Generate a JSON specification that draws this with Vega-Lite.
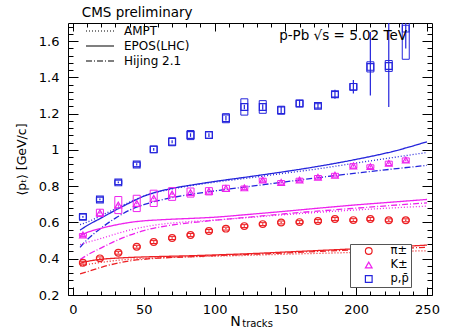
{
  "$schema": "https://vega.github.io/schema/vega-lite/v6.json",
  "width": 364,
  "height": 272,
  "autosize": "none",
  "padding": {"left": 68, "top": 23, "right": 17, "bottom": 35},
  "datasets": {
    "models": [
      {"species": "p,p̄", "model": "EPOS(LHC)", "n": 5, "pt": 0.558}, {"species": "p,p̄", "model": "EPOS(LHC)", "n": 10, "pt": 0.583}, {"species": "p,p̄", "model": "EPOS(LHC)", "n": 20, "pt": 0.625}, {"species": "p,p̄", "model": "EPOS(LHC)", "n": 30, "pt": 0.668}, {"species": "p,p̄", "model": "EPOS(LHC)", "n": 40, "pt": 0.708}, {"species": "p,p̄", "model": "EPOS(LHC)", "n": 50, "pt": 0.745}, {"species": "p,p̄", "model": "EPOS(LHC)", "n": 60, "pt": 0.77}, {"species": "p,p̄", "model": "EPOS(LHC)", "n": 70, "pt": 0.788}, {"species": "p,p̄", "model": "EPOS(LHC)", "n": 85, "pt": 0.808}, {"species": "p,p̄", "model": "EPOS(LHC)", "n": 100, "pt": 0.826}, {"species": "p,p̄", "model": "EPOS(LHC)", "n": 125, "pt": 0.853}, {"species": "p,p̄", "model": "EPOS(LHC)", "n": 150, "pt": 0.881}, {"species": "p,p̄", "model": "EPOS(LHC)", "n": 175, "pt": 0.912}, {"species": "p,p̄", "model": "EPOS(LHC)", "n": 200, "pt": 0.948}, {"species": "p,p̄", "model": "EPOS(LHC)", "n": 225, "pt": 0.99}, {"species": "p,p̄", "model": "EPOS(LHC)", "n": 250, "pt": 1.045},
      {"species": "p,p̄", "model": "AMPT", "n": 5, "pt": 0.588}, {"species": "p,p̄", "model": "AMPT", "n": 10, "pt": 0.602}, {"species": "p,p̄", "model": "AMPT", "n": 20, "pt": 0.638}, {"species": "p,p̄", "model": "AMPT", "n": 30, "pt": 0.676}, {"species": "p,p̄", "model": "AMPT", "n": 40, "pt": 0.712}, {"species": "p,p̄", "model": "AMPT", "n": 50, "pt": 0.745}, {"species": "p,p̄", "model": "AMPT", "n": 60, "pt": 0.768}, {"species": "p,p̄", "model": "AMPT", "n": 70, "pt": 0.785}, {"species": "p,p̄", "model": "AMPT", "n": 85, "pt": 0.805}, {"species": "p,p̄", "model": "AMPT", "n": 100, "pt": 0.822}, {"species": "p,p̄", "model": "AMPT", "n": 125, "pt": 0.846}, {"species": "p,p̄", "model": "AMPT", "n": 150, "pt": 0.872}, {"species": "p,p̄", "model": "AMPT", "n": 175, "pt": 0.898}, {"species": "p,p̄", "model": "AMPT", "n": 200, "pt": 0.928}, {"species": "p,p̄", "model": "AMPT", "n": 225, "pt": 0.957}, {"species": "p,p̄", "model": "AMPT", "n": 250, "pt": 0.986},
      {"species": "p,p̄", "model": "Hijing 2.1", "n": 5, "pt": 0.463}, {"species": "p,p̄", "model": "Hijing 2.1", "n": 10, "pt": 0.505}, {"species": "p,p̄", "model": "Hijing 2.1", "n": 20, "pt": 0.57}, {"species": "p,p̄", "model": "Hijing 2.1", "n": 30, "pt": 0.624}, {"species": "p,p̄", "model": "Hijing 2.1", "n": 40, "pt": 0.668}, {"species": "p,p̄", "model": "Hijing 2.1", "n": 50, "pt": 0.698}, {"species": "p,p̄", "model": "Hijing 2.1", "n": 60, "pt": 0.72}, {"species": "p,p̄", "model": "Hijing 2.1", "n": 70, "pt": 0.737}, {"species": "p,p̄", "model": "Hijing 2.1", "n": 85, "pt": 0.757}, {"species": "p,p̄", "model": "Hijing 2.1", "n": 100, "pt": 0.774}, {"species": "p,p̄", "model": "Hijing 2.1", "n": 125, "pt": 0.799}, {"species": "p,p̄", "model": "Hijing 2.1", "n": 150, "pt": 0.824}, {"species": "p,p̄", "model": "Hijing 2.1", "n": 175, "pt": 0.849}, {"species": "p,p̄", "model": "Hijing 2.1", "n": 200, "pt": 0.872}, {"species": "p,p̄", "model": "Hijing 2.1", "n": 225, "pt": 0.894}, {"species": "p,p̄", "model": "Hijing 2.1", "n": 250, "pt": 0.915},
      {"species": "K±", "model": "EPOS(LHC)", "n": 5, "pt": 0.528}, {"species": "K±", "model": "EPOS(LHC)", "n": 10, "pt": 0.545}, {"species": "K±", "model": "EPOS(LHC)", "n": 20, "pt": 0.568}, {"species": "K±", "model": "EPOS(LHC)", "n": 30, "pt": 0.586}, {"species": "K±", "model": "EPOS(LHC)", "n": 40, "pt": 0.6}, {"species": "K±", "model": "EPOS(LHC)", "n": 50, "pt": 0.609}, {"species": "K±", "model": "EPOS(LHC)", "n": 60, "pt": 0.614}, {"species": "K±", "model": "EPOS(LHC)", "n": 70, "pt": 0.618}, {"species": "K±", "model": "EPOS(LHC)", "n": 85, "pt": 0.623}, {"species": "K±", "model": "EPOS(LHC)", "n": 100, "pt": 0.629}, {"species": "K±", "model": "EPOS(LHC)", "n": 125, "pt": 0.645}, {"species": "K±", "model": "EPOS(LHC)", "n": 150, "pt": 0.662}, {"species": "K±", "model": "EPOS(LHC)", "n": 175, "pt": 0.68}, {"species": "K±", "model": "EPOS(LHC)", "n": 200, "pt": 0.697}, {"species": "K±", "model": "EPOS(LHC)", "n": 225, "pt": 0.712}, {"species": "K±", "model": "EPOS(LHC)", "n": 250, "pt": 0.727},
      {"species": "K±", "model": "AMPT", "n": 5, "pt": 0.478}, {"species": "K±", "model": "AMPT", "n": 10, "pt": 0.49}, {"species": "K±", "model": "AMPT", "n": 20, "pt": 0.512}, {"species": "K±", "model": "AMPT", "n": 30, "pt": 0.536}, {"species": "K±", "model": "AMPT", "n": 40, "pt": 0.558}, {"species": "K±", "model": "AMPT", "n": 50, "pt": 0.575}, {"species": "K±", "model": "AMPT", "n": 60, "pt": 0.588}, {"species": "K±", "model": "AMPT", "n": 70, "pt": 0.597}, {"species": "K±", "model": "AMPT", "n": 85, "pt": 0.606}, {"species": "K±", "model": "AMPT", "n": 100, "pt": 0.613}, {"species": "K±", "model": "AMPT", "n": 125, "pt": 0.628}, {"species": "K±", "model": "AMPT", "n": 150, "pt": 0.643}, {"species": "K±", "model": "AMPT", "n": 175, "pt": 0.657}, {"species": "K±", "model": "AMPT", "n": 200, "pt": 0.669}, {"species": "K±", "model": "AMPT", "n": 225, "pt": 0.68}, {"species": "K±", "model": "AMPT", "n": 250, "pt": 0.69},
      {"species": "K±", "model": "Hijing 2.1", "n": 5, "pt": 0.395}, {"species": "K±", "model": "Hijing 2.1", "n": 10, "pt": 0.42}, {"species": "K±", "model": "Hijing 2.1", "n": 20, "pt": 0.46}, {"species": "K±", "model": "Hijing 2.1", "n": 30, "pt": 0.498}, {"species": "K±", "model": "Hijing 2.1", "n": 40, "pt": 0.53}, {"species": "K±", "model": "Hijing 2.1", "n": 50, "pt": 0.555}, {"species": "K±", "model": "Hijing 2.1", "n": 60, "pt": 0.573}, {"species": "K±", "model": "Hijing 2.1", "n": 70, "pt": 0.586}, {"species": "K±", "model": "Hijing 2.1", "n": 85, "pt": 0.6}, {"species": "K±", "model": "Hijing 2.1", "n": 100, "pt": 0.612}, {"species": "K±", "model": "Hijing 2.1", "n": 125, "pt": 0.63}, {"species": "K±", "model": "Hijing 2.1", "n": 150, "pt": 0.648}, {"species": "K±", "model": "Hijing 2.1", "n": 175, "pt": 0.664}, {"species": "K±", "model": "Hijing 2.1", "n": 200, "pt": 0.679}, {"species": "K±", "model": "Hijing 2.1", "n": 225, "pt": 0.694}, {"species": "K±", "model": "Hijing 2.1", "n": 250, "pt": 0.708},
      {"species": "π±", "model": "EPOS(LHC)", "n": 5, "pt": 0.375}, {"species": "π±", "model": "EPOS(LHC)", "n": 10, "pt": 0.385}, {"species": "π±", "model": "EPOS(LHC)", "n": 20, "pt": 0.397}, {"species": "π±", "model": "EPOS(LHC)", "n": 30, "pt": 0.403}, {"species": "π±", "model": "EPOS(LHC)", "n": 40, "pt": 0.407}, {"species": "π±", "model": "EPOS(LHC)", "n": 50, "pt": 0.41}, {"species": "π±", "model": "EPOS(LHC)", "n": 60, "pt": 0.412}, {"species": "π±", "model": "EPOS(LHC)", "n": 70, "pt": 0.414}, {"species": "π±", "model": "EPOS(LHC)", "n": 85, "pt": 0.417}, {"species": "π±", "model": "EPOS(LHC)", "n": 100, "pt": 0.421}, {"species": "π±", "model": "EPOS(LHC)", "n": 125, "pt": 0.428}, {"species": "π±", "model": "EPOS(LHC)", "n": 150, "pt": 0.437}, {"species": "π±", "model": "EPOS(LHC)", "n": 175, "pt": 0.446}, {"species": "π±", "model": "EPOS(LHC)", "n": 200, "pt": 0.455}, {"species": "π±", "model": "EPOS(LHC)", "n": 225, "pt": 0.465}, {"species": "π±", "model": "EPOS(LHC)", "n": 250, "pt": 0.475},
      {"species": "π±", "model": "AMPT", "n": 5, "pt": 0.36}, {"species": "π±", "model": "AMPT", "n": 10, "pt": 0.368}, {"species": "π±", "model": "AMPT", "n": 20, "pt": 0.38}, {"species": "π±", "model": "AMPT", "n": 30, "pt": 0.39}, {"species": "π±", "model": "AMPT", "n": 40, "pt": 0.397}, {"species": "π±", "model": "AMPT", "n": 50, "pt": 0.402}, {"species": "π±", "model": "AMPT", "n": 60, "pt": 0.405}, {"species": "π±", "model": "AMPT", "n": 70, "pt": 0.408}, {"species": "π±", "model": "AMPT", "n": 85, "pt": 0.411}, {"species": "π±", "model": "AMPT", "n": 100, "pt": 0.414}, {"species": "π±", "model": "AMPT", "n": 125, "pt": 0.419}, {"species": "π±", "model": "AMPT", "n": 150, "pt": 0.425}, {"species": "π±", "model": "AMPT", "n": 175, "pt": 0.43}, {"species": "π±", "model": "AMPT", "n": 200, "pt": 0.435}, {"species": "π±", "model": "AMPT", "n": 225, "pt": 0.44}, {"species": "π±", "model": "AMPT", "n": 250, "pt": 0.444},
      {"species": "π±", "model": "Hijing 2.1", "n": 5, "pt": 0.316}, {"species": "π±", "model": "Hijing 2.1", "n": 10, "pt": 0.328}, {"species": "π±", "model": "Hijing 2.1", "n": 20, "pt": 0.353}, {"species": "π±", "model": "Hijing 2.1", "n": 30, "pt": 0.373}, {"species": "π±", "model": "Hijing 2.1", "n": 40, "pt": 0.388}, {"species": "π±", "model": "Hijing 2.1", "n": 50, "pt": 0.397}, {"species": "π±", "model": "Hijing 2.1", "n": 60, "pt": 0.403}, {"species": "π±", "model": "Hijing 2.1", "n": 70, "pt": 0.407}, {"species": "π±", "model": "Hijing 2.1", "n": 85, "pt": 0.412}, {"species": "π±", "model": "Hijing 2.1", "n": 100, "pt": 0.417}, {"species": "π±", "model": "Hijing 2.1", "n": 125, "pt": 0.424}, {"species": "π±", "model": "Hijing 2.1", "n": 150, "pt": 0.432}, {"species": "π±", "model": "Hijing 2.1", "n": 175, "pt": 0.441}, {"species": "π±", "model": "Hijing 2.1", "n": 200, "pt": 0.449}, {"species": "π±", "model": "Hijing 2.1", "n": 225, "pt": 0.456}, {"species": "π±", "model": "Hijing 2.1", "n": 250, "pt": 0.463}
    ],
    "points": [
      {"species": "π±", "n": 7, "pt": 0.378, "sysLo": 0.370, "sysHi": 0.386, "statLo": 0.374, "statHi": 0.382},
      {"species": "π±", "n": 19, "pt": 0.402, "sysLo": 0.394, "sysHi": 0.410, "statLo": 0.398, "statHi": 0.406},
      {"species": "π±", "n": 32, "pt": 0.433, "sysLo": 0.425, "sysHi": 0.441, "statLo": 0.429, "statHi": 0.437},
      {"species": "π±", "n": 45, "pt": 0.466, "sysLo": 0.458, "sysHi": 0.474, "statLo": 0.462, "statHi": 0.470},
      {"species": "π±", "n": 57, "pt": 0.492, "sysLo": 0.484, "sysHi": 0.500, "statLo": 0.488, "statHi": 0.496},
      {"species": "π±", "n": 70, "pt": 0.514, "sysLo": 0.506, "sysHi": 0.522, "statLo": 0.510, "statHi": 0.518},
      {"species": "π±", "n": 83, "pt": 0.531, "sysLo": 0.523, "sysHi": 0.539, "statLo": 0.527, "statHi": 0.535},
      {"species": "π±", "n": 96, "pt": 0.553, "sysLo": 0.545, "sysHi": 0.561, "statLo": 0.549, "statHi": 0.557},
      {"species": "π±", "n": 108, "pt": 0.566, "sysLo": 0.558, "sysHi": 0.574, "statLo": 0.562, "statHi": 0.570},
      {"species": "π±", "n": 121, "pt": 0.580, "sysLo": 0.572, "sysHi": 0.588, "statLo": 0.576, "statHi": 0.584},
      {"species": "π±", "n": 134, "pt": 0.591, "sysLo": 0.583, "sysHi": 0.599, "statLo": 0.587, "statHi": 0.595},
      {"species": "π±", "n": 147, "pt": 0.600, "sysLo": 0.592, "sysHi": 0.608, "statLo": 0.596, "statHi": 0.604},
      {"species": "π±", "n": 160, "pt": 0.602, "sysLo": 0.594, "sysHi": 0.610, "statLo": 0.598, "statHi": 0.606},
      {"species": "π±", "n": 173, "pt": 0.608, "sysLo": 0.600, "sysHi": 0.616, "statLo": 0.604, "statHi": 0.612},
      {"species": "π±", "n": 185, "pt": 0.619, "sysLo": 0.611, "sysHi": 0.627, "statLo": 0.615, "statHi": 0.623},
      {"species": "π±", "n": 198, "pt": 0.613, "sysLo": 0.605, "sysHi": 0.621, "statLo": 0.609, "statHi": 0.617},
      {"species": "π±", "n": 210, "pt": 0.619, "sysLo": 0.611, "sysHi": 0.627, "statLo": 0.615, "statHi": 0.623},
      {"species": "π±", "n": 223, "pt": 0.612, "sysLo": 0.604, "sysHi": 0.620, "statLo": 0.608, "statHi": 0.616},
      {"species": "π±", "n": 235, "pt": 0.612, "sysLo": 0.604, "sysHi": 0.620, "statLo": 0.608, "statHi": 0.616},
      {"species": "K±", "n": 7, "pt": 0.531, "sysLo": 0.523, "sysHi": 0.539, "statLo": 0.526, "statHi": 0.536},
      {"species": "K±", "n": 19, "pt": 0.653, "sysLo": 0.633, "sysHi": 0.673, "statLo": 0.648, "statHi": 0.658},
      {"species": "K±", "n": 32, "pt": 0.696, "sysLo": 0.649, "sysHi": 0.743, "statLo": 0.691, "statHi": 0.701},
      {"species": "K±", "n": 45, "pt": 0.705, "sysLo": 0.660, "sysHi": 0.750, "statLo": 0.700, "statHi": 0.710},
      {"species": "K±", "n": 57, "pt": 0.733, "sysLo": 0.688, "sysHi": 0.778, "statLo": 0.728, "statHi": 0.738},
      {"species": "K±", "n": 70, "pt": 0.757, "sysLo": 0.722, "sysHi": 0.792, "statLo": 0.752, "statHi": 0.762},
      {"species": "K±", "n": 83, "pt": 0.765, "sysLo": 0.740, "sysHi": 0.790, "statLo": 0.760, "statHi": 0.770},
      {"species": "K±", "n": 96, "pt": 0.772, "sysLo": 0.752, "sysHi": 0.792, "statLo": 0.767, "statHi": 0.777},
      {"species": "K±", "n": 108, "pt": 0.788, "sysLo": 0.771, "sysHi": 0.805, "statLo": 0.783, "statHi": 0.793},
      {"species": "K±", "n": 121, "pt": 0.791, "sysLo": 0.781, "sysHi": 0.801, "statLo": 0.786, "statHi": 0.796},
      {"species": "K±", "n": 134, "pt": 0.834, "sysLo": 0.824, "sysHi": 0.844, "statLo": 0.829, "statHi": 0.839},
      {"species": "K±", "n": 147, "pt": 0.821, "sysLo": 0.811, "sysHi": 0.831, "statLo": 0.816, "statHi": 0.826},
      {"species": "K±", "n": 160, "pt": 0.834, "sysLo": 0.824, "sysHi": 0.844, "statLo": 0.829, "statHi": 0.839},
      {"species": "K±", "n": 173, "pt": 0.849, "sysLo": 0.839, "sysHi": 0.859, "statLo": 0.844, "statHi": 0.854},
      {"species": "K±", "n": 185, "pt": 0.861, "sysLo": 0.851, "sysHi": 0.871, "statLo": 0.856, "statHi": 0.866},
      {"species": "K±", "n": 198, "pt": 0.912, "sysLo": 0.900, "sysHi": 0.924, "statLo": 0.907, "statHi": 0.917},
      {"species": "K±", "n": 210, "pt": 0.908, "sysLo": 0.898, "sysHi": 0.918, "statLo": 0.903, "statHi": 0.913},
      {"species": "K±", "n": 223, "pt": 0.926, "sysLo": 0.914, "sysHi": 0.938, "statLo": 0.921, "statHi": 0.931},
      {"species": "K±", "n": 235, "pt": 0.944, "sysLo": 0.932, "sysHi": 0.956, "statLo": 0.939, "statHi": 0.949},
      {"species": "p,p̄", "n": 7, "pt": 0.631, "sysLo": 0.616, "sysHi": 0.646, "statLo": 0.626, "statHi": 0.636},
      {"species": "p,p̄", "n": 19, "pt": 0.727, "sysLo": 0.715, "sysHi": 0.739, "statLo": 0.722, "statHi": 0.732},
      {"species": "p,p̄", "n": 32, "pt": 0.821, "sysLo": 0.809, "sysHi": 0.833, "statLo": 0.816, "statHi": 0.826},
      {"species": "p,p̄", "n": 45, "pt": 0.920, "sysLo": 0.908, "sysHi": 0.932, "statLo": 0.914, "statHi": 0.926},
      {"species": "p,p̄", "n": 57, "pt": 1.003, "sysLo": 0.985, "sysHi": 1.021, "statLo": 0.995, "statHi": 1.011},
      {"species": "p,p̄", "n": 70, "pt": 1.045, "sysLo": 1.023, "sysHi": 1.067, "statLo": 1.037, "statHi": 1.053},
      {"species": "p,p̄", "n": 83, "pt": 1.082, "sysLo": 1.057, "sysHi": 1.107, "statLo": 1.072, "statHi": 1.092},
      {"species": "p,p̄", "n": 96, "pt": 1.082, "sysLo": 1.064, "sysHi": 1.100, "statLo": 1.072, "statHi": 1.092},
      {"species": "p,p̄", "n": 108, "pt": 1.175, "sysLo": 1.150, "sysHi": 1.200, "statLo": 1.163, "statHi": 1.187},
      {"species": "p,p̄", "n": 121, "pt": 1.237, "sysLo": 1.192, "sysHi": 1.282, "statLo": 1.225, "statHi": 1.249},
      {"species": "p,p̄", "n": 134, "pt": 1.237, "sysLo": 1.202, "sysHi": 1.272, "statLo": 1.222, "statHi": 1.252},
      {"species": "p,p̄", "n": 147, "pt": 1.219, "sysLo": 1.197, "sysHi": 1.241, "statLo": 1.199, "statHi": 1.239},
      {"species": "p,p̄", "n": 160, "pt": 1.256, "sysLo": 1.238, "sysHi": 1.274, "statLo": 1.236, "statHi": 1.276},
      {"species": "p,p̄", "n": 173, "pt": 1.243, "sysLo": 1.231, "sysHi": 1.255, "statLo": 1.228, "statHi": 1.258},
      {"species": "p,p̄", "n": 185, "pt": 1.307, "sysLo": 1.292, "sysHi": 1.322, "statLo": 1.282, "statHi": 1.332},
      {"species": "p,p̄", "n": 198, "pt": 1.348, "sysLo": 1.330, "sysHi": 1.366, "statLo": 1.311, "statHi": 1.385},
      {"species": "p,p̄", "n": 210, "pt": 1.458, "sysLo": 1.430, "sysHi": 1.486, "statLo": 1.300, "statHi": 1.650},
      {"species": "p,p̄", "n": 223, "pt": 1.463, "sysLo": 1.433, "sysHi": 1.493, "statLo": 1.237, "statHi": 1.760},
      {"species": "p,p̄", "n": 235, "pt": 1.669, "sysLo": 1.500, "sysHi": 1.800, "statLo": 1.560, "statHi": 1.800}
    ]
  },
  "layer": [
    {
      "data": {"name": "models"},
      "mark": {"type": "line", "clip": true, "strokeWidth": 1.3, "interpolate": "monotone"},
      "encoding": {
        "x": {
          "field": "n", "type": "quantitative",
          "scale": {"domain": [0, 250], "nice": false, "zero": false},
          "axis": {
            "orient": "bottom", "title": "N",
            "values": [0, 10, 20, 30, 40, 50, 60, 70, 80, 90, 100, 110, 120, 130, 140, 150, 160, 170, 180, 190, 200, 210, 220, 230, 240, 250],
            "labelExpr": "datum.value % 50 === 0 ? datum.label : ''",
            "tickSize": {"condition": {"test": "datum.value % 50 === 0", "value": -8}, "value": -4},
            "labelPadding": 16,
            "titleX": 167, "titleY": 30, "titleAlign": "center", "titleBaseline": "alphabetic",
            "titleFontSize": 14, "titleFontWeight": "normal"
          }
        },
        "y": {
          "field": "pt", "type": "quantitative",
          "scale": {"domain": [0.2, 1.7], "nice": false, "zero": false},
          "axis": {
            "orient": "left", "title": "⟨pₜ⟩ [GeV/c]",
            "values": [0.2, 0.24, 0.28, 0.32, 0.36, 0.4, 0.44, 0.48, 0.52, 0.56, 0.6, 0.64, 0.68, 0.72, 0.76, 0.8, 0.84, 0.88, 0.92, 0.96, 1, 1.04, 1.08, 1.12, 1.16, 1.2, 1.24, 1.28, 1.32, 1.36, 1.4, 1.44, 1.48, 1.52, 1.56, 1.6, 1.64, 1.68],
            "labelExpr": "abs(datum.value * 5 - round(datum.value * 5)) < 0.01 ? format(datum.value, '.1~f') : ''",
            "tickSize": {"condition": {"test": "abs(datum.value * 5 - round(datum.value * 5)) < 0.01", "value": -10}, "value": -5},
            "labelPadding": 19,
            "titlePadding": 10, "titleFontSize": 12.5, "titleFontWeight": "normal"
          }
        },
        "color": {
          "field": "species", "type": "nominal",
          "scale": {"domain": ["π±", "K±", "p,p̄"], "range": ["#ec2024", "#ee22ee", "#2424dc"]},
          "legend": {
            "orient": "none", "legendX": 282, "legendY": 221, "title": null,
            "strokeColor": "#555555", "fillColor": "white", "padding": 2,
            "labelFontSize": 11.5, "labelOffset": 16, "symbolOffset": 11,
            "symbolSize": 45, "symbolStrokeWidth": 1.2, "clipHeight": 10, "rowPadding": 2
          }
        },
        "strokeDash": {
          "field": "model", "type": "nominal",
          "scale": {"domain": ["AMPT", "EPOS(LHC)", "Hijing 2.1"], "range": [[1, 2], [1, 0], [6, 2, 1, 2]]},
          "legend": {
            "orient": "none", "legendX": 17, "legendY": 2.5, "title": null, "padding": 0,
            "labelFontSize": 12, "labelOffset": 9,
            "symbolType": "stroke", "symbolSize": 784, "symbolStrokeColor": "black", "symbolStrokeWidth": 1.2,
            "clipHeight": 11, "rowPadding": 2
          }
        }
      }
    },
    {
      "data": {"name": "points"},
      "mark": {"type": "bar", "clip": true, "filled": false, "width": 7, "strokeWidth": 1},
      "encoding": {
        "x": {"field": "n", "type": "quantitative", "scale": {"domain": [0, 250]}, "axis": null},
        "y": {"field": "sysLo", "type": "quantitative", "scale": {"domain": [0.2, 1.7]}, "axis": null},
        "y2": {"field": "sysHi"},
        "color": {"field": "species", "type": "nominal"}
      }
    },
    {
      "data": {"name": "points"},
      "mark": {"type": "rule", "clip": true, "strokeWidth": 1.2},
      "encoding": {
        "x": {"field": "n", "type": "quantitative", "scale": {"domain": [0, 250]}, "axis": null},
        "y": {"field": "statLo", "type": "quantitative", "scale": {"domain": [0.2, 1.7]}, "axis": null},
        "y2": {"field": "statHi"},
        "color": {"field": "species", "type": "nominal"}
      }
    },
    {
      "data": {"name": "points"},
      "mark": {"type": "point", "clip": true, "filled": false, "size": 45, "strokeWidth": 1.2, "opacity": 1},
      "encoding": {
        "x": {
          "field": "n", "type": "quantitative", "scale": {"domain": [0, 250]},
          "axis": {
            "orient": "top", "title": null, "labels": false,
            "values": [0, 10, 20, 30, 40, 50, 60, 70, 80, 90, 100, 110, 120, 130, 140, 150, 160, 170, 180, 190, 200, 210, 220, 230, 240, 250],
            "tickSize": {"condition": {"test": "datum.value % 50 === 0", "value": -8}, "value": -4}
          }
        },
        "y": {
          "field": "pt", "type": "quantitative", "scale": {"domain": [0.2, 1.7]},
          "axis": {
            "orient": "right", "title": null, "labels": false,
            "values": [0.2, 0.24, 0.28, 0.32, 0.36, 0.4, 0.44, 0.48, 0.52, 0.56, 0.6, 0.64, 0.68, 0.72, 0.76, 0.8, 0.84, 0.88, 0.92, 0.96, 1, 1.04, 1.08, 1.12, 1.16, 1.2, 1.24, 1.28, 1.32, 1.36, 1.4, 1.44, 1.48, 1.52, 1.56, 1.6, 1.64, 1.68],
            "tickSize": {"condition": {"test": "abs(datum.value * 5 - round(datum.value * 5)) < 0.01", "value": -10}, "value": -5}
          }
        },
        "color": {"field": "species", "type": "nominal"},
        "shape": {
          "field": "species", "type": "nominal",
          "scale": {"domain": ["π±", "K±", "p,p̄"], "range": ["circle", "triangle-up", "square"]},
          "legend": {
            "orient": "none", "legendX": 282, "legendY": 221, "title": null,
            "strokeColor": "#555555", "fillColor": "white", "padding": 2,
            "labelFontSize": 11.5, "labelOffset": 16, "symbolOffset": 11,
            "symbolSize": 45, "symbolStrokeWidth": 1.2, "clipHeight": 10, "rowPadding": 2
          }
        }
      }
    },
    {
      "data": {"values": [{"label": "CMS preliminary"}]},
      "mark": {"type": "text", "align": "left", "baseline": "alphabetic", "fontSize": 13.5, "font": "DejaVu Sans", "color": "black"},
      "encoding": {
        "x": {"datum": 6.2, "type": "quantitative", "scale": {"domain": [0, 250]}, "axis": null},
        "y": {"datum": 1.733, "type": "quantitative", "scale": {"domain": [0.2, 1.7]}, "axis": null},
        "text": {"field": "label"}
      }
    },
    {
      "data": {"values": [{"label": "p-Pb √s = 5.02 TeV"}]},
      "mark": {"type": "text", "align": "left", "baseline": "alphabetic", "fontSize": 13.5, "font": "DejaVu Sans", "color": "black"},
      "encoding": {
        "x": {"datum": 145.6, "type": "quantitative", "scale": {"domain": [0, 250]}, "axis": null},
        "y": {"datum": 1.605, "type": "quantitative", "scale": {"domain": [0.2, 1.7]}, "axis": null},
        "text": {"field": "label"}
      }
    },
    {
      "data": {"values": [{"label": "tracks"}]},
      "mark": {"type": "text", "align": "left", "baseline": "alphabetic", "fontSize": 10, "font": "DejaVu Sans", "color": "black"},
      "encoding": {
        "x": {"datum": 119.5, "type": "quantitative", "scale": {"domain": [0, 250]}, "axis": null},
        "y": {"datum": 0.024, "type": "quantitative", "scale": {"domain": [0.2, 1.7]}, "axis": null},
        "text": {"field": "label"}
      }
    }
  ],
  "resolve": {"axis": {"x": "independent", "y": "independent"}},
  "config": {
    "font": "DejaVu Sans",
    "view": {"stroke": "black", "strokeWidth": 1},
    "axis": {
      "domain": false, "grid": false,
      "tickColor": "black", "tickWidth": 1,
      "labelColor": "black", "titleColor": "black",
      "labelFont": "DejaVu Sans", "labelFontSize": 13, "titleFont": "DejaVu Sans",
      "labelOverlap": false, "labelBound": false, "labelFlush": false
    },
    "legend": {"labelFont": "DejaVu Sans", "labelColor": "black"}
  }
}
